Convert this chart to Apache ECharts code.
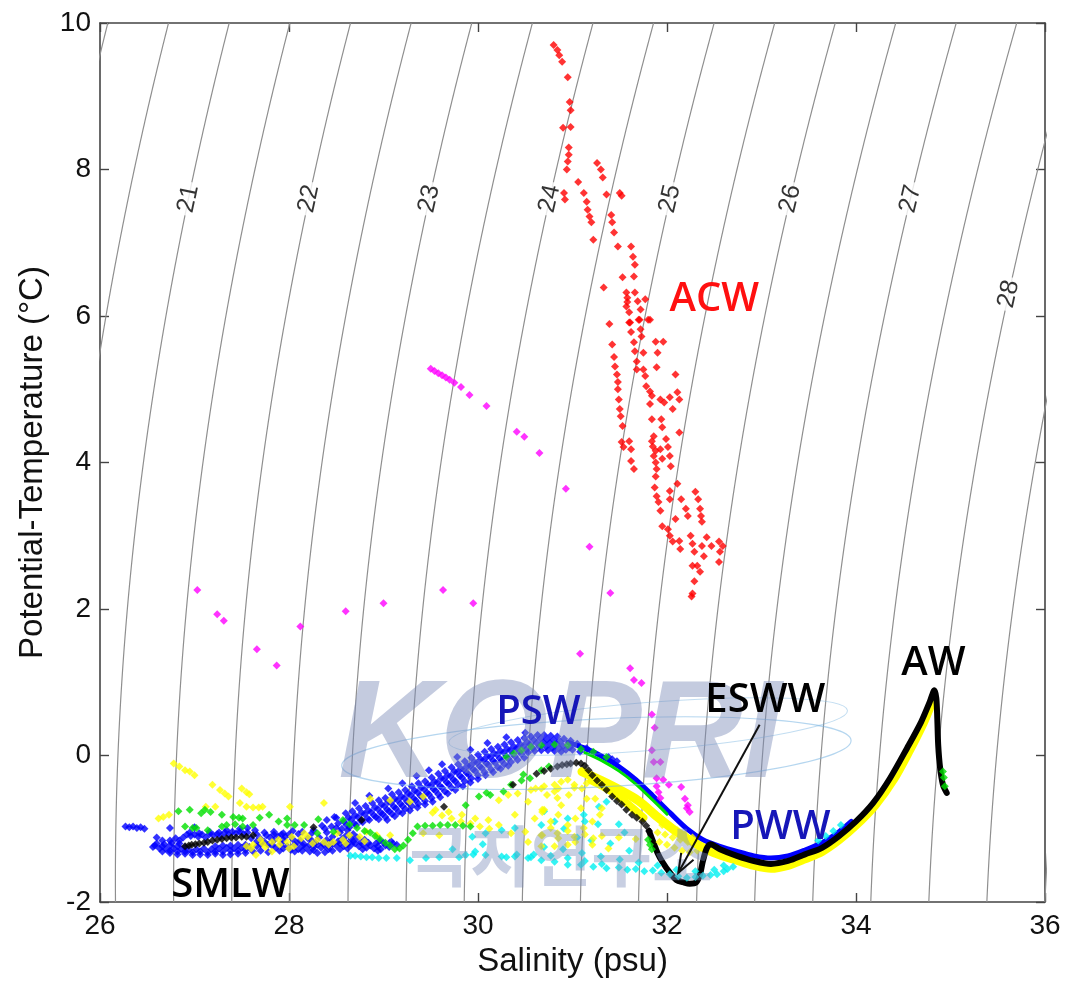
<!DOCTYPE html>
<html>
<head>
<meta charset="utf-8">
<title>Potential temperature – salinity diagram</title>
<script src="https://cdn.jsdelivr.net/npm/echarts@6/dist/echarts.min.js"></script>
<style>
  html, body { margin: 0; padding: 0; background: #ffffff; }
  #chart { width: 1078px; height: 983px; }
</style>
</head>
<body>
<div id="chart"></div>
<script>
// ---- axes ----
const salinityTicks = [26, 28, 30, 32, 34, 36];
const temperatureTicks = [-2, 0, 2, 4, 6, 8, 10];

// ---- isopycnals (sigma-theta, kg/m3) ----
const sigmaLevels = [20, 20.5, 21, 21.5, 22, 22.5, 23, 23.5, 24, 24.5, 25, 25.5, 26, 26.5, 27, 27.5, 28, 28.5, 29];
const sigmaLabelLevels = [21, 22, 23, 24, 25, 26, 27, 28];

// ---- observations: [salinity (psu), potential temperature (degC)] ----
const acwPoints = [
  [30.80,9.70],[30.84,9.63],[30.86,9.56],[30.89,9.47],[30.95,9.26],[30.97,8.92],[30.98,8.81],[30.90,8.57],[30.98,8.58],
  [30.96,8.30],[30.96,8.20],[30.95,8.11],[30.94,8.00],[30.91,7.68],[30.92,7.59],[31.06,7.83],[31.26,8.09],[31.30,8.00],
  [31.32,7.89],[31.12,7.68],[31.15,7.56],[31.16,7.45],[31.18,7.36],[31.20,7.28],[31.22,7.04],[31.36,7.66],[31.50,7.68],
  [31.52,7.64],[31.41,7.38],[31.42,7.28],[31.44,7.14],[31.48,6.95],[31.62,6.95],[31.64,6.81],[31.66,6.70],[31.53,6.53],
  [31.65,6.54],[31.33,6.39],[31.57,6.32],[31.58,6.25],[31.66,6.32],[31.69,6.20],[31.77,6.23],[31.57,6.13],[31.72,6.09],
  [31.80,5.95],[31.71,5.95],[31.60,5.91],[31.39,5.89],[31.42,5.61],[31.44,5.44],[31.45,5.31],[31.47,5.20],[31.48,5.10],
  [31.48,5.00],[31.49,4.86],[31.50,4.73],[31.51,4.63],[31.53,4.50],[31.52,4.28],[31.54,4.21],[31.60,4.29],[31.62,4.18],
  [31.62,4.02],[31.65,3.91],[31.58,6.19],[31.60,6.05],[31.61,5.91],[31.62,5.78],[31.65,5.64],[31.66,5.52],[31.68,5.38],
  [31.68,5.27],[31.70,5.95],[31.72,5.82],[31.73,5.72],[31.82,5.95],[31.75,5.50],[31.75,5.27],[31.77,5.18],[31.78,5.04],
  [31.82,4.97],[31.84,4.91],[31.82,4.80],[31.84,4.59],[31.86,4.36],[31.84,4.29],[31.85,4.22],[31.88,4.16],[31.86,4.09],
  [31.88,4.00],[31.89,3.91],[31.88,3.81],[31.87,3.66],[31.89,3.54],[31.91,3.46],[31.93,3.34],[31.95,3.13],[31.88,5.65],
  [31.90,5.50],[31.89,5.30],[31.96,5.65],[31.93,4.86],[31.97,4.82],[32.03,4.89],[31.94,4.59],[31.95,4.48],[31.99,4.32],
  [32.01,4.21],[32.03,4.09],[32.04,3.95],[31.93,4.18],[31.95,4.05],[32.06,4.73],[32.09,5.20],[32.11,4.96],[32.13,4.86],
  [32.13,4.41],[32.11,3.71],[32.03,3.61],[32.03,3.50],[32.15,3.50],[32.20,3.37],[32.22,3.27],[32.09,3.23],[32.01,3.09],
  [32.03,3.00],[32.06,2.92],[32.13,2.93],[32.14,2.82],[32.25,3.00],[32.27,2.89],[32.29,2.78],[32.30,3.60],[32.33,3.50],
  [32.35,3.37],[32.36,3.27],[32.37,3.19],[32.42,2.98],[32.47,2.86],[32.55,2.92],[32.59,2.86],[32.56,2.78],[32.55,2.64],
  [32.27,2.59],[32.32,2.59],[32.35,2.51],[32.29,2.38],[32.27,2.21],[32.26,2.17],[32.37,2.86],[32.39,2.72]
];

const magentaPoints = [
  [29.50,5.28],[29.54,5.25],[29.58,5.22],[29.62,5.19],[29.66,5.16],[29.70,5.13],[29.75,5.09],[29.82,5.03],[29.91,4.92],
  [30.09,4.77],[30.41,4.42],[30.49,4.35],[30.65,4.13],[30.93,3.64],[31.18,2.85],[31.40,2.22],[31.08,1.39],[31.61,1.19],
  [31.65,1.03],[31.73,0.99],[31.84,0.56],[31.87,0.38],[31.84,0.07],[31.86,-0.09],[31.93,-0.09],[31.89,-0.31],[31.96,-0.33],
  [32.02,-0.40],[32.15,-0.43],[31.89,-0.42],[31.91,-0.50],[31.93,-0.58],[32.19,-0.59],[32.22,-0.68],[32.24,-0.77],[32.21,-0.72],
  [27.03,2.26],[27.24,1.93],[27.31,1.84],[27.66,1.45],[27.87,1.23],[28.12,1.76],[28.60,1.97],[29.00,2.08],[29.63,2.26],[29.95,2.08]
];

const bluePoints = [
  [26.27,-0.97],[26.31,-0.98],[26.35,-0.97],[26.39,-0.99],[26.43,-0.98],[26.47,-1.00],
  [26.74,-1.33],[26.82,-1.35],[26.90,-1.34],[26.98,-1.36],[27.06,-1.35],[27.14,-1.36],[27.22,-1.34],[27.30,-1.36],[27.38,-1.35],
  [27.46,-1.34],[27.54,-1.33],[27.62,-1.31],[27.70,-1.30],[27.78,-1.32],[28.22,-1.31],[28.30,-1.33],[28.38,-1.32],[28.46,-1.30],[28.54,-1.28],
  [26.66,-1.31],[26.74,-1.30],[26.82,-1.31],[26.90,-1.31],[26.98,-1.32],[27.06,-1.31],[27.14,-1.32],[27.22,-1.31],[27.30,-1.31],
  [27.38,-1.30],[27.46,-1.30],[27.54,-1.29],[27.90,-1.30],[28.06,-1.31],[28.14,-1.30],[28.26,-1.29],[28.42,-1.28],[28.62,-1.27],
  [28.78,-1.28],[28.94,-1.30],
  [26.56,-1.25],[26.63,-1.27],[26.70,-1.28],[26.78,-1.27],[26.86,-1.28],[26.94,-1.29],[27.02,-1.28],[27.10,-1.27],[27.18,-1.28],
  [27.26,-1.27],[27.34,-1.26],[27.42,-1.27],[27.50,-1.26],[27.58,-1.25],[27.86,-1.26],[27.94,-1.27],[28.02,-1.29],[28.10,-1.28],
  [28.18,-1.26],[28.26,-1.25],[28.34,-1.26],[28.42,-1.24],[28.50,-1.23],[28.58,-1.24],[28.66,-1.22],[28.74,-1.24],[28.82,-1.26],
  [28.90,-1.27],[28.97,-1.28],[29.06,-1.25],[29.14,-1.22],
  [26.58,-1.23],[26.66,-1.24],[26.74,-1.23],[26.82,-1.24],[26.90,-1.25],[27.22,-1.24],[27.30,-1.23],[27.38,-1.23],[27.46,-1.22],
  [27.54,-1.22],[27.66,-1.24],[27.82,-1.23],[27.98,-1.24],[28.06,-1.22],[28.14,-1.23],[28.22,-1.22],[28.30,-1.22],[28.38,-1.23],
  [28.46,-1.21],[28.54,-1.20],[28.62,-1.21],[28.70,-1.20],[28.78,-1.21],[28.86,-1.23],[28.94,-1.24],[29.02,-1.23],[29.10,-1.20],
  [26.60,-1.20],[26.68,-1.21],[26.76,-1.19],[26.84,-1.20],[27.70,-1.21],[27.78,-1.22],[27.92,-1.20],[28.08,-1.19],[28.16,-1.21],
  [28.28,-1.19],[28.36,-1.20],[28.44,-1.18],[28.52,-1.17],[28.60,-1.18],[28.68,-1.17],[28.76,-1.18],[28.84,-1.19],[28.92,-1.20],
  [29.00,-1.19],[29.08,-1.17],
  [26.66,-1.16],[26.74,-1.16],[26.84,-1.16],[27.66,-1.17],[27.74,-1.18],[27.84,-1.16],[27.94,-1.15],[28.12,-1.16],[28.24,-1.16],
  [28.40,-1.15],[28.56,-1.14],[28.66,-1.14],[28.80,-1.15],[28.96,-1.16],
  [26.80,-1.13],[26.88,-1.12],[26.96,-1.10],[27.04,-1.11],[27.12,-1.12],[27.20,-1.09],[27.28,-1.10],[27.36,-1.08],[27.44,-1.06],
  [27.52,-1.07],[27.60,-1.13],[27.70,-1.14],[27.80,-1.12],[27.88,-1.10],[27.96,-1.11],[28.04,-1.14],[28.20,-1.13],[28.32,-1.12],
  [28.46,-1.11],[28.60,-1.10],[28.72,-1.12],
  [26.92,-1.08],[27.00,-1.08],[27.08,-1.08],[27.16,-1.07],[27.24,-1.07],[27.32,-1.05],[27.40,-1.04],[27.48,-1.04],[27.56,-1.05],
  [27.66,-1.08],[27.76,-1.09],[27.84,-1.08],[27.92,-1.08],[28.00,-1.08],[28.10,-1.07],[28.24,-1.06],[28.40,-1.05],[28.54,-1.05],[28.68,-1.07],
  [26.95,-1.05],[27.05,-1.06],[27.16,-1.04],[27.26,-1.05],[27.34,-1.02],[27.48,-1.00],[27.56,-0.99],[27.64,-1.02],[27.74,-1.05],
  [27.84,-1.04],[27.94,-1.06],[28.04,-1.03],[28.14,-1.04],[28.26,-1.02],[28.38,-1.00],[28.50,-0.99],[28.62,-1.02],
  [26.74,-0.99],[26.60,-1.12],[27.00,-0.98],[28.40,-0.88],[28.48,-0.84],[28.52,-0.93],[28.45,-0.97],
  [28.60,-0.79],[28.67,-0.76],[28.74,-0.72],[28.81,-0.69],[28.88,-0.65],[28.95,-0.61],[29.02,-0.58],[29.09,-0.53],[29.16,-0.50],
  [29.23,-0.47],[29.30,-0.42],[29.37,-0.38],[29.44,-0.35],[29.51,-0.30],[29.58,-0.25],[29.65,-0.21],[29.72,-0.16],[29.79,-0.12],
  [29.86,-0.08],[29.93,-0.03],[30.00,0.01],[30.07,0.05],[30.14,0.09],[30.21,0.12],[30.28,0.15],[30.35,0.18],[30.42,0.21],
  [30.49,0.24],[30.56,0.26],[30.63,0.28],[30.70,0.28],[30.77,0.27],[30.84,0.26],[30.91,0.23],
  [28.63,-0.85],[28.70,-0.82],[28.77,-0.78],[28.84,-0.75],[28.91,-0.71],[28.98,-0.67],[29.05,-0.63],[29.12,-0.59],[29.19,-0.56],
  [29.26,-0.52],[29.33,-0.48],[29.40,-0.44],[29.47,-0.40],[29.54,-0.36],[29.61,-0.31],[29.68,-0.27],[29.75,-0.22],[29.82,-0.18],
  [29.89,-0.14],[29.96,-0.09],[30.03,-0.05],[30.10,-0.01],[30.17,0.03],[30.24,0.06],[30.31,0.09],[30.38,0.12],[30.45,0.15],
  [30.52,0.18],[30.59,0.21],[30.66,0.23],[30.73,0.22],[30.80,0.21],[30.87,0.19],
  [28.58,-0.90],[28.66,-0.87],[28.73,-0.84],[28.80,-0.80],[28.87,-0.77],[28.94,-0.73],[29.01,-0.69],[29.08,-0.65],[29.15,-0.61],
  [29.22,-0.58],[29.29,-0.54],[29.36,-0.50],[29.43,-0.46],[29.50,-0.41],[29.57,-0.37],[29.64,-0.32],[29.71,-0.28],[29.78,-0.23],
  [29.85,-0.19],[29.92,-0.14],[29.99,-0.10],[30.06,-0.06],[30.13,-0.02],[30.20,0.01],[30.27,0.04],[30.34,0.07],[30.41,0.10],
  [30.48,0.13],[30.55,0.15],[30.62,0.17],[30.69,0.18],[30.76,0.17],[30.83,0.16],[30.90,0.13],[30.97,0.11],
  [28.61,-0.95],[28.69,-0.93],[28.76,-0.89],[28.83,-0.86],[28.90,-0.82],[28.97,-0.78],[29.04,-0.74],[29.11,-0.70],[29.18,-0.66],
  [29.25,-0.63],[29.32,-0.59],[29.39,-0.55],[29.46,-0.51],[29.53,-0.46],[29.60,-0.42],[29.67,-0.37],[29.74,-0.33],[29.81,-0.28],
  [29.88,-0.24],[29.95,-0.19],[30.02,-0.15],[30.09,-0.11],[30.16,-0.07],[30.23,-0.04],[30.30,-0.01],[30.37,0.02],[30.44,0.05],
  [30.51,0.08],[30.58,0.10],[30.65,0.12],[30.72,0.12],[30.79,0.11],[30.86,0.10],[30.93,0.08],
  [28.56,-1.00],[28.64,-0.98],[28.71,-0.95],[28.78,-0.91],[28.85,-0.88],[28.92,-0.84],[28.99,-0.80],[29.06,-0.76],[29.13,-0.72],
  [29.20,-0.69],[29.27,-0.65],[29.34,-0.61],[29.41,-0.57],[29.48,-0.53],[29.55,-0.48],[29.62,-0.44],[29.69,-0.39],[29.76,-0.35],
  [29.83,-0.30],[29.90,-0.26],[29.97,-0.21],[30.04,-0.17],[30.11,-0.13],[30.18,-0.10],[30.25,-0.07],[30.32,-0.04],[30.39,-0.01],
  [30.46,0.02],[30.53,0.04],[30.60,0.06],[30.67,0.07],[30.74,0.07],[30.81,0.06],[30.88,0.05],
  [28.95,-0.87],[29.02,-0.84],[29.09,-0.80],[29.16,-0.77],[29.23,-0.73],[29.30,-0.69],[29.37,-0.66],[29.44,-0.62],[29.51,-0.58],
  [29.58,-0.53],[29.65,-0.49],[29.72,-0.44],[29.79,-0.40],[29.86,-0.35],[29.93,-0.31],[30.00,-0.27],[30.07,-0.23],[30.14,-0.19],
  [30.21,-0.16],[30.28,-0.12],[30.35,-0.09],[30.42,-0.06],[30.49,-0.03],
  [29.04,-0.88],[29.12,-0.83],[29.20,-0.79],[29.28,-0.75],[29.36,-0.71],[29.44,-0.67],[29.52,-0.63],[29.60,-0.57],[29.68,-0.52],
  [29.76,-0.47],[29.84,-0.42],[29.92,-0.37],[30.00,-0.32],[30.08,-0.27],[30.16,-0.23],[30.24,-0.18],[30.32,-0.14],
  [28.85,-0.55],[29.05,-0.45],[29.20,-0.38],[29.35,-0.28],[29.48,-0.20],[29.62,-0.12],[29.78,-0.02],[29.92,0.08],[30.10,0.17],
  [30.30,0.25],[30.50,0.31],[28.70,-0.65],[28.50,-0.85],[28.35,-0.96],
  [30.98,0.20],[31.05,0.16],[31.00,0.08],[31.08,0.05],[31.15,0.10],[31.38,-0.02],[31.42,-0.05],[31.47,-0.08]
];

const greenPoints = [
  [26.83,-0.76],[26.95,-0.74],[27.07,-0.79],[27.17,-0.77],[27.29,-0.81],[27.41,-0.84],[27.51,-0.86],[26.90,-0.97],[26.98,-0.99],
  [27.14,-1.02],[27.29,-0.97],[27.34,-0.95],[27.51,-0.97],[27.62,-0.95],[27.79,-0.81],[27.89,-0.90],[27.98,-0.86],[27.98,-0.95],
  [28.06,-0.95],[28.16,-0.95],[28.30,-1.06],[28.47,-1.04],[28.57,-0.88],[27.11,-0.74],[27.47,-0.85],[27.69,-0.85],[27.43,-0.94],
  [27.02,-0.99],[28.31,-0.87],[28.64,-0.94],
  [28.72,-0.99],[28.80,-1.03],[28.86,-1.05],[28.91,-1.10],[28.96,-1.14],[29.02,-1.19],[29.07,-1.23],[29.12,-1.28],[29.17,-1.27],
  [29.21,-1.23],[29.26,-1.15],[29.31,-1.06],
  [29.36,-0.97],[29.44,-0.96],[29.52,-0.96],[29.60,-0.95],[29.68,-0.95],[29.76,-0.95],[29.84,-0.96],[29.92,-0.97],
  [29.87,-0.68],[30.01,-0.56],[30.13,-0.54],[30.27,-0.49],[30.35,-0.40],[30.46,-0.34],[30.55,-0.31],[30.67,-0.20],[30.75,-0.15],
  [30.09,-0.51],[30.48,-0.26],
  [30.30,-0.02],[30.38,0.03],[30.46,0.07],[30.56,0.12],[30.67,0.14],[30.81,0.15],[30.95,0.14],[31.09,0.09],[31.22,0.05],[31.36,-0.02],
  [31.80,-1.15],[31.82,-1.22],[31.84,-1.28],
  [34.92,-0.22],[34.93,-0.30],[34.94,-0.42]
];

const yellowPoints = [
  [26.78,-0.11],[26.84,-0.15],[26.90,-0.20],[26.95,-0.22],[27.00,-0.27],[27.19,-0.40],[27.27,-0.47],[27.32,-0.52],[27.36,-0.56],
  [27.50,-0.45],[27.55,-0.50],[27.58,-0.53],[27.48,-0.65],[27.55,-0.70],[27.62,-0.71],[27.68,-0.71],[27.72,-0.70],[27.12,-0.70],
  [27.22,-0.70],[26.62,-0.86],[26.67,-0.84],[26.73,-0.81],[28.01,-0.70],[28.37,-0.65],
  [27.55,-1.24],[27.62,-1.22],[27.72,-1.20],[27.82,-1.18],[27.89,-1.15],[27.98,-1.18],[28.03,-1.11],[28.13,-1.13],[28.20,-1.11],
  [28.30,-1.15],[28.37,-1.18],[28.47,-1.18],[28.57,-1.15],[28.64,-1.09],[28.75,-1.11],[27.65,-1.36],[27.82,-1.31],[28.16,-1.06],
  [28.51,-1.06],[27.60,-1.27],[27.75,-1.25],[27.90,-1.22],[28.05,-1.24],[28.25,-1.20],[28.42,-1.22],[28.60,-1.20],[28.80,-1.17],
  [27.70,-1.15],[28.00,-1.27],
  [28.82,-1.04],[28.93,-1.09],[29.07,-1.09],[29.42,-1.06],[29.59,-1.09],
  [28.86,-0.59],[29.07,-0.61],[29.28,-0.63],[29.42,-0.56],[29.55,-0.74],[29.69,-0.77],[29.83,-0.81],[29.97,-0.86],[30.11,-0.88],
  [30.22,-0.95],[30.35,-1.06],[30.53,-1.18],[30.67,-1.24],[30.81,-1.24],[30.95,-1.22],
  [29.52,-0.78],[29.62,-0.82],[29.72,-0.86],[29.82,-0.90],[29.92,-0.93],[30.02,-0.97],[30.12,-1.00],
  [30.22,-0.61],[30.32,-0.54],[30.42,-0.52],[30.56,-0.47],[30.67,-0.45],[30.81,-0.40],[30.88,-0.36],[31.02,-0.40],[31.15,-0.38],
  [31.29,-0.36],[30.53,-0.63],[30.70,-0.74],[30.88,-0.68],[31.09,-0.72],[31.15,-0.59],[31.29,-0.81],[30.39,-0.81],[30.60,-0.86],
  [30.77,-0.90],[30.95,-0.95],[31.12,-0.99],[30.67,-1.09],[30.84,-1.06],[31.02,-1.11],[31.22,-1.13],
  [30.70,-0.42],[30.81,-0.49],[30.95,-0.33],[31.02,-0.44],[30.68,-0.74],[30.84,-0.58],[30.77,-0.99],[30.95,-1.03],[31.13,-1.08],
  [31.31,-1.10],[31.49,-1.12],[31.67,-1.14],
  [30.61,-0.45],[30.73,-0.54],[30.85,-0.45],[30.96,-0.54],[31.10,-0.45],[31.24,-0.59],[30.68,-0.77],[30.85,-0.81],[31.03,-0.86],
  [31.21,-0.90],[31.31,-0.72],[30.50,-1.04],[30.68,-1.09],[30.85,-1.13],[31.03,-1.18],[31.21,-1.22],[31.38,-1.27],
  [31.90,-1.05],[31.98,-1.08],[32.06,-1.12],[32.14,-1.15],[32.22,-1.18],[32.30,-1.20],[31.95,-0.95],[32.03,-0.98],[32.11,-1.02],
  [32.19,-1.08],[32.27,-1.12],[31.92,-1.18],[32.00,-1.22],[32.08,-1.26],[32.16,-1.30],[32.24,-1.32],[32.32,-1.30]
];

const cyanPoints = [
  [28.65,-1.37],[28.70,-1.37],[28.76,-1.38],[28.82,-1.39],[28.88,-1.39],[28.95,-1.40],[29.03,-1.40],[29.14,-1.40],[29.28,-1.43],
  [29.45,-1.40],[29.59,-1.39],[29.73,-1.28],[29.80,-1.39],[29.87,-1.36],[29.95,-1.35],[29.97,-1.31],[30.05,-1.21],[30.08,-1.36],
  [30.25,-1.38],[30.30,-1.39],[30.39,-1.38],[30.41,-1.35],[30.53,-1.40],[30.56,-1.39],[30.67,-1.43],[30.81,-1.45],[30.95,-1.49],
  [31.09,-1.49],[31.22,-1.52],[31.36,-1.54],
  [29.94,-1.11],[30.08,-1.06],[30.25,-1.02],[30.39,-0.99],[30.67,-0.95],[30.81,-0.90],[30.95,-0.86],[31.12,-0.81],[31.28,-0.70],[31.36,-0.63],
  [30.59,-1.35],[30.77,-1.37],[30.95,-1.40],[31.13,-1.44],[31.31,-1.48],[31.49,-1.53],[31.58,-1.56],[31.67,-1.55],[31.76,-1.58],
  [31.85,-1.57],[31.94,-1.60],[32.03,-1.62],[32.12,-1.65],[32.21,-1.67],[32.30,-1.66],[32.38,-1.64],[32.46,-1.63],[32.53,-1.62],
  [32.60,-1.58],[32.64,-1.55],[32.70,-1.52],
  [30.70,-1.25],[30.90,-1.28],[31.10,-1.33],[31.30,-1.38],[31.50,-1.42],[31.70,-1.46],[31.90,-1.50],[32.10,-1.56],[32.30,-1.58],
  [32.50,-1.56],[32.60,-1.50],
  [30.70,-0.76],[30.91,-1.00],[31.13,-0.90],[31.27,-0.94],[31.49,-0.94],[31.05,-1.12],[31.20,-1.16],[31.40,-1.20],[31.60,-1.30],[31.55,-1.05],
  [33.60,-1.16],[33.68,-1.10],[33.76,-1.03],[33.84,-0.95]
];

const blackPoints = [
  [26.90,-1.24],[26.94,-1.23],[26.97,-1.22],[27.01,-1.21],[27.05,-1.20],[27.10,-1.19],[27.14,-1.18],[27.19,-1.16],[27.24,-1.15],
  [27.29,-1.14],[27.34,-1.13],[27.39,-1.12],[27.44,-1.12],[27.50,-1.11],[27.55,-1.11],[27.62,-1.09],[28.26,-0.98],[28.77,-0.88],
  [29.64,-0.70],[30.37,-0.40],[30.62,-0.25],[30.70,-0.21],[30.77,-0.18],[30.84,-0.15],[30.89,-0.13],[30.94,-0.12],[30.98,-0.11],
  [31.04,-0.10],[31.09,-0.11],[31.13,-0.14],[31.17,-0.20],[31.21,-0.27],[31.26,-0.34],[31.31,-0.40],[31.36,-0.47],[31.42,-0.56],
  [31.47,-0.62],[31.52,-0.67],[31.57,-0.74],[31.63,-0.81],[31.68,-0.85],[31.74,-0.90],[31.78,-0.96],[31.81,-1.03]
];

// Dense profile segments, drawn as continuous strokes
const blackTrace = [
  [31.81,-1.03],[31.86,-1.20],[31.90,-1.33],[31.95,-1.45],[32.03,-1.60],[32.10,-1.70],[32.17,-1.73],[32.24,-1.75],[32.31,-1.73],
  [32.35,-1.62],[32.38,-1.44],[32.42,-1.27],[32.46,-1.21],[32.56,-1.28],[32.74,-1.37],[32.92,-1.44],[33.10,-1.48],[33.28,-1.44],
  [33.46,-1.35],[33.64,-1.26],[33.82,-1.10],[34.00,-0.90],[34.18,-0.65],[34.36,-0.31],[34.54,0.10],[34.69,0.46],[34.78,0.73],
  [34.83,0.89],[34.85,0.78],[34.86,0.51],[34.87,0.14],[34.89,-0.17],[34.92,-0.40],[34.96,-0.51]
];
const yellowTrace = [
  [31.10,-0.22],[31.30,-0.34],[31.50,-0.47],[31.70,-0.62],[31.90,-0.84],[32.10,-1.04],[32.30,-1.20],[32.50,-1.33],[32.74,-1.43],
  [32.92,-1.50],[33.10,-1.54],[33.28,-1.50],[33.46,-1.41],[33.64,-1.31],[33.82,-1.15],[34.00,-0.95],[34.20,-0.68],[34.40,-0.32],
  [34.57,0.08],[34.71,0.44],[34.80,0.72]
];
const yellowInnerTrace = [[31.20,-0.34],[31.40,-0.48],[31.60,-0.68],[31.75,-0.85]];
const blueTrace = [
  [30.95,0.18],[31.13,0.10],[31.31,-0.01],[31.49,-0.15],[31.67,-0.33],[31.85,-0.55],[32.03,-0.78],[32.21,-1.00],[32.38,-1.15],
  [32.56,-1.24],[32.74,-1.31],[32.92,-1.37],[33.10,-1.40],[33.28,-1.37],[33.46,-1.29],[33.64,-1.19],[33.82,-1.04],[33.95,-0.90]
];
const greenTrace = [[31.13,0.04],[31.31,-0.07],[31.49,-0.21],[31.67,-0.39],[31.85,-0.61],[32.00,-0.80]];

// Water mass names
const waterMassNames = ['ACW', 'PSW', 'ESWW', 'AW', 'PWW', 'SMLW'];

// ---- layout and styling ----
const layout = {
  grid: { left: 100, right: 33, top: 23, bottom: 79 },
  labelTemperature: { 21: 7.6, 22: 7.6, 23: 7.6, 24: 7.6, 25: 7.6, 26: 7.6, 27: 7.6, 28: 6.3 },
  nameAnchor: {
    ACW: [32.5, 6.22], PSW: [30.64, 0.58], ESWW: [33.04, 0.75],
    AW: [34.82, 1.26], PWW: [33.2, -0.99], SMLW: [27.38, -1.77]
  },
  nameColor: { ACW: '#ff1010', PSW: '#1616b8', ESWW: '#000000', AW: '#000000', PWW: '#1616b8', SMLW: '#000000' },
  arrowFrom: [32.98, 0.42],
  arrowTo: [32.12, -1.60]
};

// UNESCO EOS-80 density anomaly at the sea surface
function sigmaTheta(S, T) {
  const rw = 999.842594 + 6.793952e-2 * T - 9.095290e-3 * T * T + 1.001685e-4 * T ** 3
           - 1.120083e-6 * T ** 4 + 6.536332e-9 * T ** 5;
  const A = 8.24493e-1 - 4.0899e-3 * T + 7.6438e-5 * T * T - 8.2467e-7 * T ** 3 + 5.3875e-9 * T ** 4;
  const B = -5.72466e-3 + 1.0227e-4 * T - 1.6546e-6 * T * T;
  const C = 4.8314e-4;
  return rw + A * S + B * Math.pow(S, 1.5) + C * S * S - 1000;
}
function isopycnalSalinity(sigma, T) {
  let lo = 15, hi = 45;
  for (let i = 0; i < 60; i++) {
    const mid = (lo + hi) / 2;
    if (sigmaTheta(mid, T) < sigma) lo = mid; else hi = mid;
  }
  return (lo + hi) / 2;
}
function isopycnal(sigma) {
  const pts = [];
  for (let i = 0; i <= 240; i++) {
    const T = -2 + i * 0.05;
    const S = isopycnalSalinity(sigma, T);
    if (S > 25.3 && S < 36.7) pts.push([S, T]);
  }
  return pts;
}

const chart = echarts.init(document.getElementById('chart'), null, { renderer: 'canvas' });
const axisColor = '#444';
const fontFamily = 'Liberation Sans, Arial, sans-serif';
const tickFont = { fontSize: 28, color: '#111', fontFamily };

function valueAxisX(position, showLabels) {
  return {
    type: 'value', position, min: salinityTicks[0], max: salinityTicks[salinityTicks.length - 1], interval: 2,
    axisLine: { show: true, onZero: false, lineStyle: { color: axisColor, width: 1.6 } },
    axisTick: { show: true, inside: true, length: 9, lineStyle: { color: axisColor, width: 1.4 } },
    axisLabel: Object.assign({ show: showLabels, margin: 10 }, tickFont),
    splitLine: { show: false },
    name: showLabels ? 'Salinity (psu)' : '', nameLocation: 'middle', nameGap: 43,
    nameTextStyle: { fontSize: 33, color: '#111', fontFamily }
  };
}
function valueAxisY(position, showLabels) {
  return {
    type: 'value', position, min: temperatureTicks[0], max: temperatureTicks[temperatureTicks.length - 1], interval: 2,
    axisLine: { show: true, onZero: false, lineStyle: { color: axisColor, width: 1.6 } },
    axisTick: { show: true, inside: true, length: 9, lineStyle: { color: axisColor, width: 1.4 } },
    axisLabel: Object.assign({ show: showLabels, margin: 9 }, tickFont),
    splitLine: { show: false },
    name: showLabels ? 'Potential-Temperature (°C)' : '', nameLocation: 'middle', nameGap: 50, nameRotate: 90,
    nameTextStyle: { fontSize: 33, color: '#111', fontFamily }
  };
}

function scatter(name, data, color) {
  return {
    name, type: 'scatter', data, symbol: 'diamond', symbolSize: 8,
    itemStyle: { color }, z: 3, silent: true, animation: false
  };
}
function trace(name, data, color, width) {
  return {
    name, type: 'line', data, smooth: 0.3, showSymbol: false, symbol: 'none',
    lineStyle: { color, width, cap: 'round', join: 'round' }, z: 3, silent: true, animation: false
  };
}

const contourSeries = sigmaLevels.map(sig => ({
  name: 'sigma ' + sig, type: 'line', data: isopycnal(sig), showSymbol: false, symbol: 'none',
  lineStyle: { color: '#8f8f8f', width: 1.2 }, z: 1, silent: true, animation: false, clip: true
}));

chart.setOption({
  animation: false,
  backgroundColor: '#ffffff',
  textStyle: { fontFamily },
  grid: Object.assign({ containLabel: false }, layout.grid),
  xAxis: [valueAxisX('bottom', true), valueAxisX('top', false)],
  yAxis: [valueAxisY('left', true), valueAxisY('right', false)],
  series: contourSeries.concat([
    {
      id: 'isoLabels', type: 'scatter', data: [], symbolSize: 0, z: 2, silent: true, animation: false,
      label: {
        show: true, position: 'inside', formatter: '{b}', fontSize: 25, color: '#000000',
        fontFamily, backgroundColor: '#ffffff', padding: [0, 3]
      }
    },
    scatter('cyan', cyanPoints, '#00f0f0'),
    scatter('blue', bluePoints, '#0000ff'),
    trace('blue trace', blueTrace, '#0000ff', 5),
    scatter('yellow', yellowPoints, '#ffff00'),
    trace('yellow trace', yellowTrace, '#ffff00', 9),
    trace('yellow inner trace', yellowInnerTrace, '#ffff00', 8),
    scatter('green', greenPoints, '#00e000'),
    trace('green trace', greenTrace, '#00e000', 3),
    scatter('magenta', magentaPoints, '#ff00ff'),
    scatter('ACW', acwPoints, '#ff0000'),
    scatter('black', blackPoints, '#000000'),
    trace('black trace', blackTrace, '#000000', 6)
  ])
});

function toPx(p) { return chart.convertToPixel({ xAxisIndex: 0, yAxisIndex: 0 }, p); }

// Isopycnal labels, rotated along the local slope of each curve
const labelData = sigmaLabelLevels.map(sig => {
  const T = layout.labelTemperature[sig];
  const a = toPx([isopycnalSalinity(sig, T - 0.4), T - 0.4]);
  const b = toPx([isopycnalSalinity(sig, T + 0.4), T + 0.4]);
  const angle = Math.atan2(a[1] - b[1], b[0] - a[0]) * 180 / Math.PI;
  return { name: String(sig), value: [isopycnalSalinity(sig, T), T], label: { rotate: angle } };
});

// Water mass names, arrow and the institute watermark
const graphics = [];
waterMassNames.forEach(n => {
  const p = toPx(layout.nameAnchor[n]);
  graphics.push({
    type: 'text', x: p[0], y: p[1], z: 120, silent: true,
    style: {
      text: n, fill: layout.nameColor[n], fontSize: 40, fontWeight: 600,
      fontFamily: '"Open Sans", "Noto Sans", sans-serif', align: 'center', verticalAlign: 'middle'
    }
  });
});
const a0 = toPx(layout.arrowFrom), a1 = toPx(layout.arrowTo);
const dx = a1[0] - a0[0], dy = a1[1] - a0[1], len = Math.hypot(dx, dy);
const ux = dx / len, uy = dy / len, head = 20, spread = 0.36;
function rot(x, y, t) { return [x * Math.cos(t) - y * Math.sin(t), x * Math.sin(t) + y * Math.cos(t)]; }
const h1 = rot(-ux, -uy, spread), h2 = rot(-ux, -uy, -spread);
graphics.push({
  type: 'line', z: 120, silent: true,
  shape: { x1: a0[0], y1: a0[1], x2: a1[0], y2: a1[1] },
  style: { stroke: '#111', lineWidth: 2 }
});
graphics.push({
  type: 'polyline', z: 120, silent: true,
  shape: { points: [[a1[0] + h1[0] * head, a1[1] + h1[1] * head], [a1[0], a1[1]], [a1[0] + h2[0] * head, a1[1] + h2[1] * head]] },
  style: { stroke: '#111', lineWidth: 2, fill: null }
});
graphics.push(
  { type: 'ellipse', z: 100, silent: true, shape: { cx: 558, cy: 782, rx: 255, ry: 34 }, rotation: 0.05,
    style: { fill: null, stroke: 'rgba(120,180,225,0.55)', lineWidth: 1.2 } },
  { type: 'ellipse', z: 100, silent: true, shape: { cx: 588, cy: 776, rx: 200, ry: 24 }, rotation: 0.08,
    style: { fill: null, stroke: 'rgba(120,180,225,0.45)', lineWidth: 1 } },
  { type: 'text', x: 560, y: 738, z: 100, silent: true,
    style: { text: 'KOPRI', fill: 'rgba(125,140,185,0.45)', fontSize: 140, fontWeight: 'bold', fontStyle: 'italic',
             fontFamily, align: 'center', verticalAlign: 'middle' } },
  { type: 'text', x: 561, y: 856, z: 100, silent: true,
    style: { text: '극지연구소', fill: 'rgba(125,140,185,0.42)', fontSize: 66, fontWeight: 'bold',
             fontFamily: '"Noto Sans CJK KR", sans-serif', align: 'center', verticalAlign: 'middle' } }
);

chart.setOption({
  series: [{ id: 'isoLabels', data: labelData }],
  graphic: graphics
});
</script>
</body>
</html>
